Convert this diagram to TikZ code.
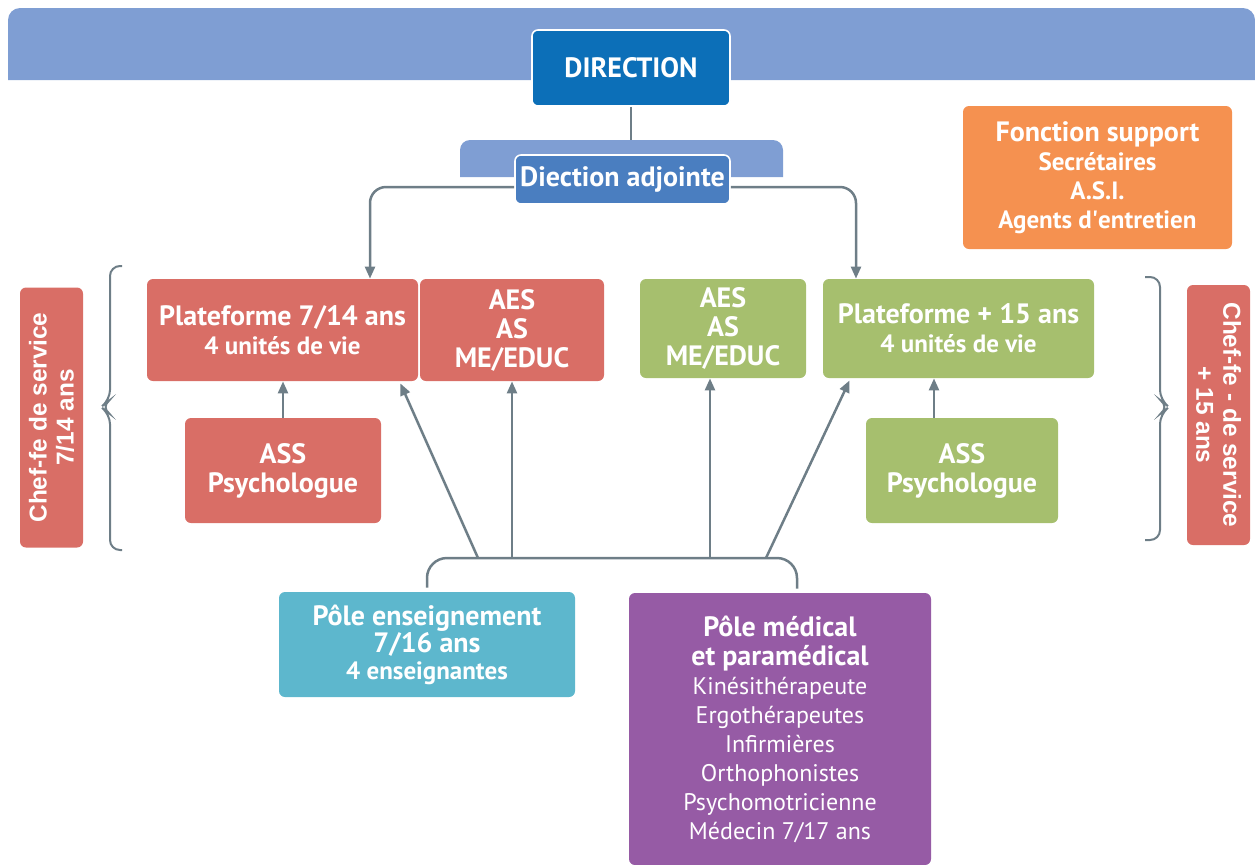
\documentclass[tikz,border=0pt]{standalone}
\usepackage{fontspec}
\setmainfont{PT Sans}
\newfontfamily\cheffont{Liberation Sans}
\usetikzlibrary{arrows.meta,positioning}
\definecolor{BandBlue}{RGB}{127,158,211}
\definecolor{DirBlue}{RGB}{12,111,184}
\definecolor{AdjBlue}{RGB}{74,126,192}
\definecolor{SupOrange}{RGB}{245,145,80}
\definecolor{UnitRed}{RGB}{217,110,102}
\definecolor{UnitGreen}{RGB}{166,191,110}
\definecolor{EnsTeal}{RGB}{93,183,205}
\definecolor{MedPurple}{RGB}{150,91,165}
\definecolor{LinkGrey}{RGB}{110,126,135}

\tikzset{
  box/.style={rounded corners=3pt, inner sep=0pt, align=center, text=white,
    font=\fontsize{14}{14.5}\selectfont\bfseries},
  chef/.style={box, fill=UnitRed, minimum width=130pt, minimum height=31.5pt,
    font=\cheffont\fontsize{12.2}{13.5}\selectfont\bfseries},
  link/.style={draw=LinkGrey, line width=1.25pt},
  tolink/.style={link, -{Triangle[length=6pt,width=5pt]}}
}
\newcommand{\subline}[1]{{\fontsize{12.5}{14.5}\selectfont #1}}
\newcommand{\medline}{\mdseries\fontsize{12}{14.5}\selectfont}

\begin{document}
\begin{tikzpicture}[x=0.5pt, y=-0.5pt]
  \useasboundingbox (0,0) rectangle (1255,864);
  % bands
  \fill[BandBlue] (8,80) [rounded corners=6pt] -- (8,8) -- (1255,8) [sharp corners] -- (1255,80) -- cycle;
  \fill[BandBlue] (460,177) [rounded corners=5pt] -- (460,140) -- (783,140) [sharp corners] -- (783,177) -- cycle;
  \coordinate (adjband) at (631,140);

  % direction
  \node[box, fill=DirBlue, draw=white, line width=0.8pt, minimum width=99pt, minimum height=38pt] (dir) at (631,68) {DIRECTION};
  \node[box, fill=AdjBlue, draw=white, line width=0.8pt, minimum width=107.5pt, minimum height=24.5pt] (adj) at (622.5,179.5) {Diection adjointe};
  \node[box, fill=SupOrange, minimum width=134.5pt, minimum height=71.5pt] (sup) at (1097.5,177.5)
    {Fonction support\\ \subline{Secrétaires}\\ \subline{A.S.I.}\\ \subline{Agents d\textquotesingle entretien}};

  % 7/14 ans
  \node[chef, rotate=90] (chef1) at (51.5,417.5) {Chef-fe de service\\7/14 ans};
  \node[box, fill=UnitRed, minimum width=135.5pt, minimum height=51pt] (p714) at (282.5,330)
    {Plateforme 7/14 ans\\ \subline{4 unités de vie}};
  \node[box, fill=UnitRed, minimum width=92pt, minimum height=51pt] (aes1) at (512,330) {AES\\AS\\ME/EDUC};
  \node[box, fill=UnitRed, minimum width=98pt, minimum height=52.5pt] (ass1) at (283,470.5) {ASS\\Psychologue};

  % + 15 ans
  \node[box, fill=UnitGreen, minimum width=83pt, minimum height=49.5pt] (aes2) at (723,328.5) {AES\\AS\\ME/EDUC};
  \node[box, fill=UnitGreen, minimum width=135.5pt, minimum height=49.5pt] (p15) at (958.5,328.5)
    {Plateforme + 15 ans\\ \subline{4 unités de vie}};
  \node[box, fill=UnitGreen, minimum width=96pt, minimum height=52.5pt] (ass2) at (962,470.5) {ASS\\Psychologue};
  \node[chef, rotate=-90] (chef2) at (1218.5,415) {Chef-fe - de service\\+ 15 ans};

  % poles
  \node[box, fill=EnsTeal, minimum width=148pt, minimum height=52.5pt,
    font=\fontsize{14}{13.5}\selectfont\bfseries] (ens) at (427,644.5)
    {Pôle enseignement\\7/16 ans\\ \subline{4 enseignantes}};
  \node[box, fill=MedPurple, minimum width=151pt, minimum height=136pt] (med) at (780,729)
    {Pôle médical\\et paramédical\\ \medline Kinésithérapeute\\ \medline Ergothérapeutes\\
     \medline Infirmières\\ \medline Orthophonistes\\ \medline Psychomotricienne\\ \medline Médecin 7/17 ans};

  % braces
  \draw[link, line width=1pt, rounded corners=5pt] (122,266) -| (110,400) -- (101,407) -- (110,414) |- (122,550);
  \draw[link, line width=1pt, rounded corners=5pt] (1145,277) -| (1160,400) -- (1169,407) -- (1160,414) |- (1145,540);

  % links from direction
  \draw[link] (dir.south) -- (adjband);
  \draw[tolink, rounded corners=8pt] ([yshift=-3.75pt]adj.west) -| ([xshift=43.75pt]p714.north);
  \draw[tolink, rounded corners=8pt] ([yshift=-3.75pt]adj.east) -| ([xshift=-51.25pt]p15.north);
  \draw[tolink] (ass1.north) -- (ass1.north |- p714.south);
  \draw[tolink] ([xshift=-14pt]ass2.north) -- ([xshift=-14pt]ass2.north |- p15.south);

  % links from the poles
  \coordinate (hub) at (428,558);
  \coordinate (medtop) at ([xshift=8.5pt]med.north);
  \draw[link, rounded corners=10pt, shorten <=2pt, shorten >=2pt] (ens.north) |- (medtop |- hub) -- (medtop);
  \draw[tolink] (478,558) -- ([xshift=-9pt,yshift=-1pt]p714.south east);
  \draw[tolink] (aes1.south |- hub) -- (aes1.south);
  \draw[tolink] ([xshift=-6.5pt]aes2.south |- hub) -- ([xshift=-6.5pt]aes2.south);
  \draw[tolink] (766,558) -- ([xshift=13.5pt,yshift=-1pt]p15.south west);
\end{tikzpicture}
\end{document}
